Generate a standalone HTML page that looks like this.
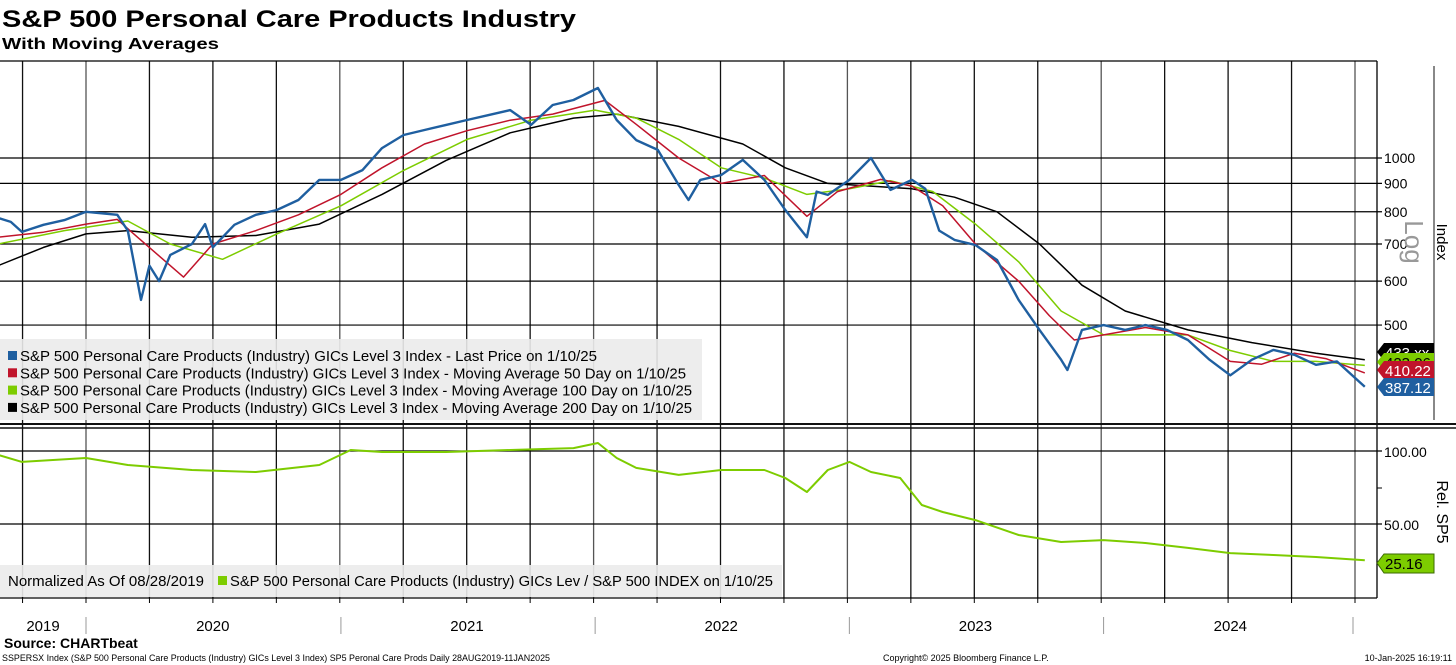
<!DOCTYPE html>
<html><head><meta charset="utf-8"><style>
html,body{margin:0;padding:0;background:#fff;width:1456px;height:665px;overflow:hidden}
svg{display:block;font-family:"Liberation Sans",sans-serif}
</style></head><body>
<svg id="c" width="1456" height="665" xmlns="http://www.w3.org/2000/svg">
<text x="2" y="27" font-size="24" font-weight="bold" textLength="574" lengthAdjust="spacingAndGlyphs">S&amp;P 500 Personal Care Products Industry</text>
<text x="2" y="49" font-size="16" font-weight="bold" textLength="217" lengthAdjust="spacingAndGlyphs">With Moving Averages</text>
<g id="grid"></g>
<g id="series"></g>
<g id="overlay"></g>
</svg>
<script>
const priceDates=["2019-08-28","2019-09-15","2019-10-01","2019-11-01","2019-12-01","2020-01-01","2020-02-15","2020-03-01","2020-03-20","2020-04-01","2020-04-15","2020-05-01","2020-06-01","2020-06-20","2020-07-01","2020-08-01","2020-09-01","2020-10-01","2020-11-01","2020-12-01","2021-01-01","2021-02-01","2021-03-01","2021-04-01","2021-05-01","2021-06-01","2021-07-01","2021-08-01","2021-09-01","2021-10-01","2021-11-01","2021-12-01","2022-01-05","2022-02-01","2022-03-01","2022-04-01","2022-05-01","2022-05-15","2022-06-01","2022-07-01","2022-08-01","2022-09-01","2022-10-01","2022-11-01","2022-11-15","2022-12-01","2023-01-01","2023-02-01","2023-03-01","2023-04-01","2023-04-20","2023-05-10","2023-06-01","2023-07-01","2023-08-01","2023-09-01","2023-10-01","2023-11-01","2023-11-10","2023-12-01","2024-01-01","2024-02-01","2024-03-01","2024-04-01","2024-05-01","2024-06-01","2024-07-01","2024-08-01","2024-09-01","2024-10-01","2024-11-01","2024-12-01","2025-01-10"];
const priceValues=[780,767,736,758,773,800,790,740,555,640,600,669,700,760,690,758,790,806,840,913,913,951,1042,1100,1123,1147,1171,1195,1220,1147,1246,1272,1337,1171,1077,1034,894,840,913,932,992,913,806,720,870,858,913,1000,876,913,880,740,712,697,655,555,490,433,415,490,500,490,500,490,470,433,406,433,451,442,424,430,387];
const ma50Dates=["2019-08-28","2019-11-01","2020-01-01","2020-02-15","2020-03-15","2020-05-20","2020-07-01","2020-09-01","2020-11-01","2021-01-01","2021-03-01","2021-05-01","2021-07-01","2021-09-01","2021-11-01","2022-01-15","2022-03-01","2022-05-01","2022-07-01","2022-09-01","2022-11-01","2022-12-15","2023-02-15","2023-04-01","2023-05-15","2023-07-01","2023-09-01","2023-10-15","2023-11-20","2024-01-01","2024-03-01","2024-05-01","2024-07-01","2024-08-15","2024-10-01","2024-11-15","2025-01-10"];
const ma50Values=[720,735,760,775,720,610,700,740,790,860,960,1060,1120,1170,1200,1270,1150,1000,900,930,785,870,915,890,820,700,600,520,470,480,495,480,430,425,445,435,410];
const ma100Dates=["2019-08-28","2019-12-01","2020-03-01","2020-05-01","2020-07-15","2020-10-01","2021-01-01","2021-04-01","2021-07-01","2021-10-01","2022-01-01","2022-03-01","2022-05-01","2022-07-01","2022-09-01","2022-11-01","2023-01-01","2023-03-01","2023-05-01","2023-07-01","2023-09-01","2023-11-01","2024-01-01","2024-03-01","2024-05-01","2024-07-01","2024-09-01","2024-11-01","2025-01-10"];
const ma100Values=[700,740,770,700,657,730,820,950,1080,1170,1220,1180,1080,960,920,860,880,910,870,760,650,530,480,480,480,450,430,430,423];
const ma200Dates=["2019-08-28","2019-11-01","2020-01-01","2020-03-01","2020-06-01","2020-09-01","2020-12-01","2021-03-01","2021-06-01","2021-09-01","2021-12-01","2022-02-01","2022-05-01","2022-08-01","2022-10-01","2022-12-01","2023-02-01","2023-04-01","2023-06-01","2023-08-01","2023-10-01","2023-12-01","2024-02-01","2024-05-01","2024-08-01","2024-11-01","2025-01-10"];
const ma200Values=[640,690,730,740,720,725,760,860,990,1110,1180,1200,1140,1060,960,900,890,880,850,800,700,590,530,490,465,445,433];
const relDates=["2019-08-28","2019-10-01","2020-01-01","2020-03-01","2020-06-01","2020-09-01","2020-12-01","2021-01-15","2021-03-01","2021-06-01","2021-09-01","2021-12-01","2022-01-05","2022-02-01","2022-03-01","2022-05-01","2022-07-01","2022-09-01","2022-10-01","2022-11-01","2022-12-01","2023-01-01","2023-02-01","2023-03-15","2023-04-15","2023-05-15","2023-07-01","2023-09-01","2023-11-01","2024-01-01","2024-03-01","2024-05-01","2024-07-01","2024-09-01","2024-11-01","2025-01-10"];
const relValues=[97.3,92.5,95.2,90.4,87,85.6,90.4,100.7,99.3,99.3,100.7,102,105.5,95.2,88.4,83.6,87,87,81.5,71.9,87,92.5,85.6,81.5,63,58.2,52.7,42.5,37.7,39,37,33.6,30.1,28.8,27.4,25.16];
const priceTicks=[500,600,700,800,900,1000];
const relTicks=[50,100];
const yearLabels=["2019","2020","2021","2022","2023","2024"];
const lastLabels=["433.xx","423.06","410.22","387.12"];

const NS="http://www.w3.org/2000/svg";
const G=document.getElementById('grid'),S=document.getElementById('series'),O=document.getElementById('overlay');
const t0=Date.UTC(2020,0,1);
function x(d){const p=d.split('-');return 86+(Date.UTC(+p[0],+p[1]-1,+p[2])-t0)/864e5*0.6965;}
function yP(v){return 158+555*Math.log10(1000/v);}
function yR(v){return 451+(100-v)*73/50;}
function el(tag,attrs,parent){const e=document.createElementNS(NS,tag);for(const k in attrs)e.setAttribute(k,attrs[k]);parent.appendChild(e);return e;}
for(let q=-1;q<21;q++){const xx=86+q*63.45;
 const l=el('line',{x1:xx,x2:xx,y1:61,y2:598,stroke:(q%4==0)?'#555':'#111','stroke-width':1.3},G);
 
 
 el('line',{x1:xx,x2:xx,y1:598,y2:603,stroke:'#000'},G);}
el('line',{x1:0,x2:1377,y1:61,y2:61,stroke:'#000','stroke-width':1.3},G);
priceTicks.forEach(v=>{const yy=yP(v);
 const l=el('line',{x1:0,x2:1382,y1:yy,y2:yy,stroke:'#000','stroke-width':1.2},G);
 
 
 const t=el('text',{x:1384,y:yy+5,'font-size':14},G);t.textContent=v;
 
 });
relTicks.forEach(v=>{const yy=yR(v);
 el('line',{x1:0,x2:1382,y1:yy,y2:yy,stroke:'#000','stroke-width':1.2},G);
 const t=el('text',{x:1384,y:yy+6,'font-size':14},G);t.textContent=v.toFixed(2);
 
 });
el('line',{x1:1377,x2:1382,y1:488,y2:488,stroke:'#000'},G);
el('line',{x1:1377,x2:1377,y1:61,y2:598,stroke:'#000','stroke-width':1.3},G);
el('line',{x1:1434,x2:1434,y1:66,y2:420,stroke:'#888','stroke-width':2},G);
el('line',{x1:0,x2:1456,y1:424,y2:424,stroke:'#111','stroke-width':2},G);
el('line',{x1:0,x2:1456,y1:428,y2:428,stroke:'#111','stroke-width':1.5},G);
el('line',{x1:0,x2:1377,y1:598,y2:598,stroke:'#000','stroke-width':1.3},G);
let t=el('text',{x:1437,y:242,'font-size':15,transform:'rotate(90 1437 242)','text-anchor':'middle'},G);t.textContent='Index';

t=el('text',{x:1405,y:242,'font-size':26,fill:'#999',transform:'rotate(90 1405 242)','text-anchor':'middle'},G);t.textContent='Log';

t=el('text',{x:1437,y:512,'font-size':16,transform:'rotate(90 1437 512)','text-anchor':'middle'},G);t.textContent='Rel. SP5';

yearLabels.forEach((yr,i)=>{const xc=i==0?43:(x(yr+'-07-01'));
 const tt=el('text',{x:xc,y:631,'font-size':15,'text-anchor':'middle'},G);tt.textContent=yr;
 
 
 if(i>0){const xs=x(yr+'-01-01');el('line',{x1:xs,x2:xs,y1:617,y2:634,stroke:'#999'},G);}});
el('line',{x1:1353,x2:1353,y1:617,y2:634,stroke:'#999'},G);
function line(dates,vals,fy,color,w,name){
 const d=dates.map((dd,i)=>(i?'L':'M')+x(dd).toFixed(1)+','+fy(vals[i]).toFixed(1)).join('');
 const p=el('path',{d:d,fill:'none',stroke:color,'stroke-width':w,'stroke-linejoin':'round'},S);
 
 }
line(ma200Dates,ma200Values,yP,'#000',1.5,'ma200-line');
line(ma100Dates,ma100Values,yP,'#7dcc00',1.5,'ma100-line');
line(ma50Dates,ma50Values,yP,'#c0142b',1.5,'ma50-line');
line(priceDates,priceValues,yP,'#1f5fa0',2.4,'price-line');
line(relDates,relValues,yR,'#7dcc00',2,'rel-sp5-line');
el('rect',{x:0,y:339,width:702,height:81,fill:'rgba(235,235,235,0.9)'},O);
const legC=['#1f5fa0','#c0142b','#7dcc00','#000'];
const legT=['S&P 500 Personal Care Products (Industry) GICs Level 3 Index - Last Price on 1/10/25','S&P 500 Personal Care Products (Industry) GICs Level 3 Index - Moving Average 50 Day on 1/10/25','S&P 500 Personal Care Products (Industry) GICs Level 3 Index - Moving Average 100 Day on 1/10/25','S&P 500 Personal Care Products (Industry) GICs Level 3 Index - Moving Average 200 Day on 1/10/25'];
const legW=[577,666,672,672];
legT.forEach((s,i)=>{const yy=361+i*17.3;
 el('rect',{x:8,y:yy-10,width:9,height:9,fill:legC[i]},O);
 const tt=el('text',{x:20,y:yy,'font-size':15,textLength:legW[i],lengthAdjust:'spacingAndGlyphs'},O);tt.textContent=s;
 
 });
el('rect',{x:0,y:565,width:782,height:32,fill:'rgba(235,235,235,0.9)'},O);
t=el('text',{x:8,y:586,'font-size':15,textLength:196,lengthAdjust:'spacingAndGlyphs'},O);t.textContent='Normalized As Of 08/28/2019';

el('rect',{x:218,y:576,width:9,height:9,fill:'#7dcc00'},O);
t=el('text',{x:230,y:586,'font-size':15,textLength:543,lengthAdjust:'spacingAndGlyphs'},O);t.textContent='S&P 500 Personal Care Products (Industry) GICs Lev / S&P 500 INDEX on 1/10/25';

const tagC=['#000','#7dcc00','#c0142b','#1f5fa0'],tagY=[352,362,370,387],tagTC=['#fff','#000','#fff','#fff'];
tagC.forEach((c,i)=>{const yy=tagY[i];
 const p=el('path',{d:`M1377,${yy} L1384,${yy-9} L1434,${yy-9} L1434,${yy+9} L1384,${yy+9} Z`,fill:c},O);
 
 
 const tt=el('text',{x:1385,y:yy+6,'font-size':15,fill:tagTC[i]},O);tt.textContent=lastLabels[i];});
el('path',{d:'M1377,563 L1384,554 L1434,554 L1434,573 L1384,573 Z',fill:'#7dcc00',stroke:'#3a6a00'},O);
t=el('text',{x:1385,y:569,'font-size':15},O);t.textContent='25.16';

t=el('text',{x:4,y:648,'font-size':14,'font-weight':'bold'},O);t.textContent='Source: CHARTbeat';

t=el('text',{x:2,y:661,'font-size':9,textLength:548,lengthAdjust:'spacingAndGlyphs'},O);t.textContent='SSPERSX Index (S&P 500 Personal Care Products (Industry) GICs Level 3 Index) SP5 Peronal Care Prods  Daily 28AUG2019-11JAN2025';

t=el('text',{x:883,y:661,'font-size':9},O);t.textContent='Copyright© 2025 Bloomberg Finance L.P.';

t=el('text',{x:1452,y:661,'font-size':9,'text-anchor':'end'},O);t.textContent='10-Jan-2025 16:19:11';

</script>
</body></html>
